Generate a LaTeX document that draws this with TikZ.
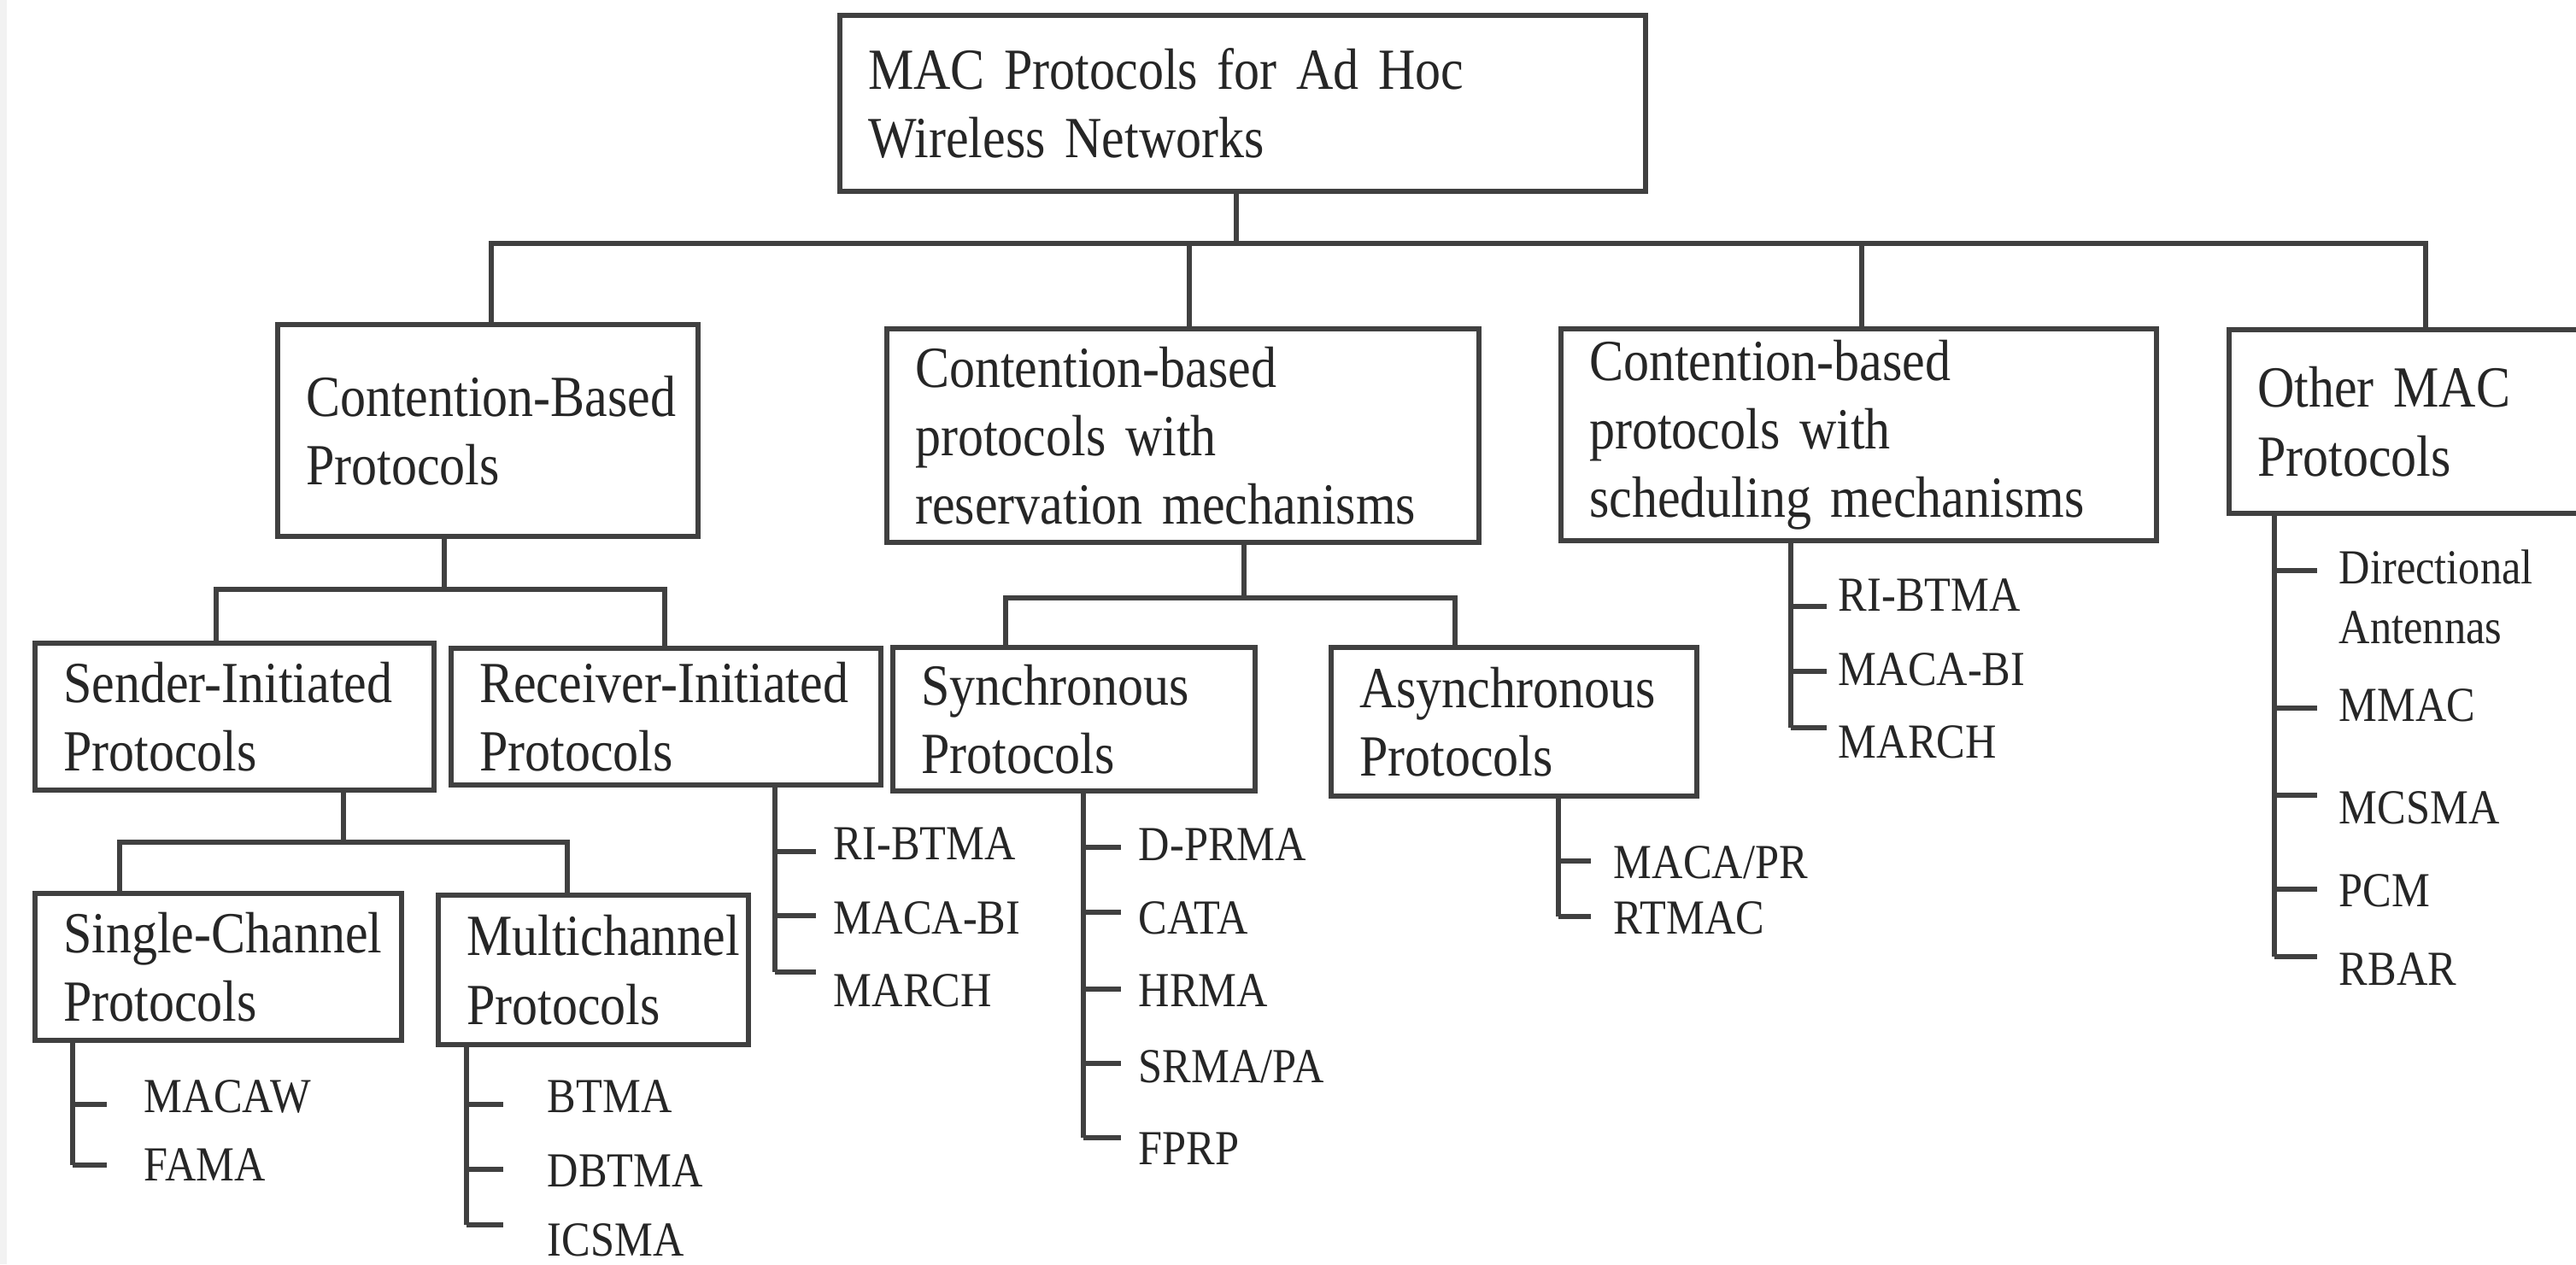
\documentclass[tikz,border=0pt]{standalone}
\usepackage{fontspec}
\setmainfont{Liberation Serif}[FakeStretch=0.88]
\usetikzlibrary{calc}
\usetikzlibrary{positioning}

\newcommand{\boxfont}{\fontsize{19.4}{22.8}\selectfont
  \hyphenpenalty=10000 \exhyphenpenalty=10000}
\newcommand{\itemfont}{\fontsize{16.3}{19.9}\selectfont}

\begin{document}
\begin{tikzpicture} [y = -1cm,
    line width = 1.6pt,
    color = black!75,
    blk/.style = {draw, line width = 1.8pt, anchor = north west,
        align = left, inner xsep = .33cm, inner ysep = 0pt,
        text = black!85, font = \boxfont},
    itm/.style = {anchor = base west, inner sep = 0pt,
        text = black!85, font = \itemfont}]

\useasboundingbox (0,0) rectangle (30.15,14.80);
\clip (0,0) rectangle (30.15,14.80);

% grey strip at the left edge
\fill [black!5] (0,0) rectangle (0.08,14.80);

% root
\node [blk, text width = 8.77cm, minimum height = 2.06cm] (root) at (9.80,0.15)
    {MAC Protocols for Ad Hoc\\Wireless Networks};

% second row
\node [blk, text width = 4.26cm, minimum height = 2.48cm] (cbased) at (3.22,3.77)
    {Contention-Based\\Protocols};
\node [blk, text width = 6.27cm, minimum height = 2.50cm] (cresv) at (10.35,3.82)
    {Contention-based\\protocols with\\reservation mechanisms};
\node [blk, text width = 6.31cm, minimum height = 2.48cm] (csched) at (18.24,3.82)
    {Contention-based\\protocols with\\scheduling mechanisms};
\node [blk, text width = 4.00cm, minimum height = 2.15cm] (other) at (26.06,3.83)
    {Other MAC\\Protocols};

% third row
\node [blk, text width = 4.01cm, minimum height = 1.72cm] (sender) at (0.38,7.50)
    {Sender-Initiated\\Protocols};
\node [blk, text width = 4.37cm, minimum height = 1.60cm] (receiver) at (5.25,7.56)
    {Receiver-Initiated\\Protocols};
\node [blk, text width = 3.58cm, minimum height = 1.68cm] (sync) at (10.42,7.55)
    {Synchronous\\Protocols};
\node [blk, text width = 3.62cm, minimum height = 1.74cm] (async) at (15.55,7.55)
    {Asynchronous\\Protocols};

% fourth row
\node [blk, text width = 3.63cm, minimum height = 1.72cm] (single) at (0.38,10.43)
    {Single-Channel\\Protocols};
\node [blk, text width = 2.97cm, minimum height = 1.75cm] (multi) at (5.10,10.45)
    {Multichannel\\Protocols};

% bus under the root
\coordinate (s-root) at (14.47,2.85);
\coordinate (s-cbased) at (5.75,2.85);
\coordinate (s-cresv) at (13.92,2.85);
\coordinate (s-csched) at (21.79,2.85);
\coordinate (s-other) at (28.39,2.85);
\draw (s-root |- root.south) -- (s-root);
\draw (s-cbased |- cbased.north) -- (s-cbased) -- (s-other) -- (s-other |- other.north);
\draw (s-cresv) -- (s-cresv |- cresv.north);
\draw (s-csched) -- (s-csched |- csched.north);

% contention-based split
\coordinate (b-cbased) at (5.20,6.90);
\coordinate (b-sender) at (2.53,6.90);
\coordinate (b-receiver) at (7.78,6.90);
\draw (b-cbased |- cbased.south) -- (b-cbased);
\draw (b-sender |- sender.north) -- (b-sender) -- (b-receiver) -- (b-receiver |- receiver.north);

% reservation split
\coordinate (b-cresv) at (14.56,7.00);
\coordinate (b-sync) at (11.77,7.00);
\coordinate (b-async) at (17.03,7.00);
\draw (b-cresv |- cresv.south) -- (b-cresv);
\draw (b-sync |- sync.north) -- (b-sync) -- (b-async) -- (b-async |- async.north);

% sender-initiated split
\coordinate (b-sender2) at (4.02,9.86);
\coordinate (b-single) at (1.40,9.86);
\coordinate (b-multi) at (6.64,9.86);
\draw (b-sender2 |- sender.south) -- (b-sender2);
\draw (b-single |- single.north) -- (b-single) -- (b-multi) -- (b-multi |- multi.north);

% single-channel list
\coordinate (r-single) at (0.85,13.64);
\draw (r-single |- single.south) -- (r-single);
\foreach \name/\ty/\by [count = \i] in {MACAW/12.93/13.02, FAMA/13.64/13.82} {
    \draw (0.85,\ty) -- (1.25,\ty);
    \node [itm] (single-\i) at (1.66,\by) {\name};
}

% multichannel list
\coordinate (r-multi) at (5.46,14.34);
\draw (r-multi |- multi.south) -- (r-multi);
\foreach \name/\ty/\by [count = \i] in {BTMA/12.93/13.02, DBTMA/13.69/13.89, ICSMA/14.34/14.70} {
    \draw (5.46,\ty) -- (5.89,\ty);
    \node [itm] (multi-\i) at (6.38,\by) {\name};
}

% receiver-initiated list
\coordinate (r-receiver) at (9.07,11.38);
\draw (r-receiver |- receiver.south) -- (r-receiver);
\foreach \name/\ty/\by [count = \i] in {RI-BTMA/9.97/10.06, MACA-BI/10.72/10.93, MARCH/11.38/11.78} {
    \draw (9.07,\ty) -- (9.55,\ty);
    \node [itm] (receiver-\i) at (9.73,\by) {\name};
}

% synchronous list
\coordinate (r-sync) at (12.68,13.32);
\draw (r-sync |- sync.south) -- (r-sync);
\foreach \name/\ty/\by [count = \i] in {D-PRMA/9.92/10.07, CATA/10.68/10.93, HRMA/11.58/11.78,
    {SRMA/PA}/12.45/12.67, FPRP/13.32/13.63} {
    \draw (12.68,\ty) -- (13.12,\ty);
    \node [itm] (sync-\i) at (13.30,\by) {\name};
}

% asynchronous list
\coordinate (r-async) at (18.24,10.73);
\draw (r-async |- async.south) -- (r-async);
\foreach \name/\ty/\by [count = \i] in {{MACA/PR}/10.08/10.28, RTMAC/10.73/10.93} {
    \draw (18.24,\ty) -- (18.62,\ty);
    \node [itm] (async-\i) at (18.86,\by) {\name};
}

% scheduling list
\coordinate (r-csched) at (20.96,8.52);
\draw (r-csched |- csched.south) -- (r-csched);
\foreach \name/\ty/\by [count = \i] in {RI-BTMA/7.10/7.15, MACA-BI/7.86/8.02, MARCH/8.52/8.87} {
    \draw (20.96,\ty) -- (21.38,\ty);
    \node [itm] (csched-\i) at (21.49,\by) {\name};
}

% other list
\coordinate (r-other) at (26.62,11.20);
\draw (r-other |- other.south) -- (r-other);
\foreach \name/\ty/\by [count = \i] in {Directional/6.68/6.83, MMAC/8.29/8.44, MCSMA/9.31/9.64,
    PCM/10.41/10.61, RBAR/11.20/11.53} {
    \draw (26.62,\ty) -- (27.12,\ty);
    \node [itm] (other-\i) at (27.35,\by) {\name};
}
\node [itm] (other-ant) at (27.35,7.53) {Antennas};

\end{tikzpicture}
\end{document}
